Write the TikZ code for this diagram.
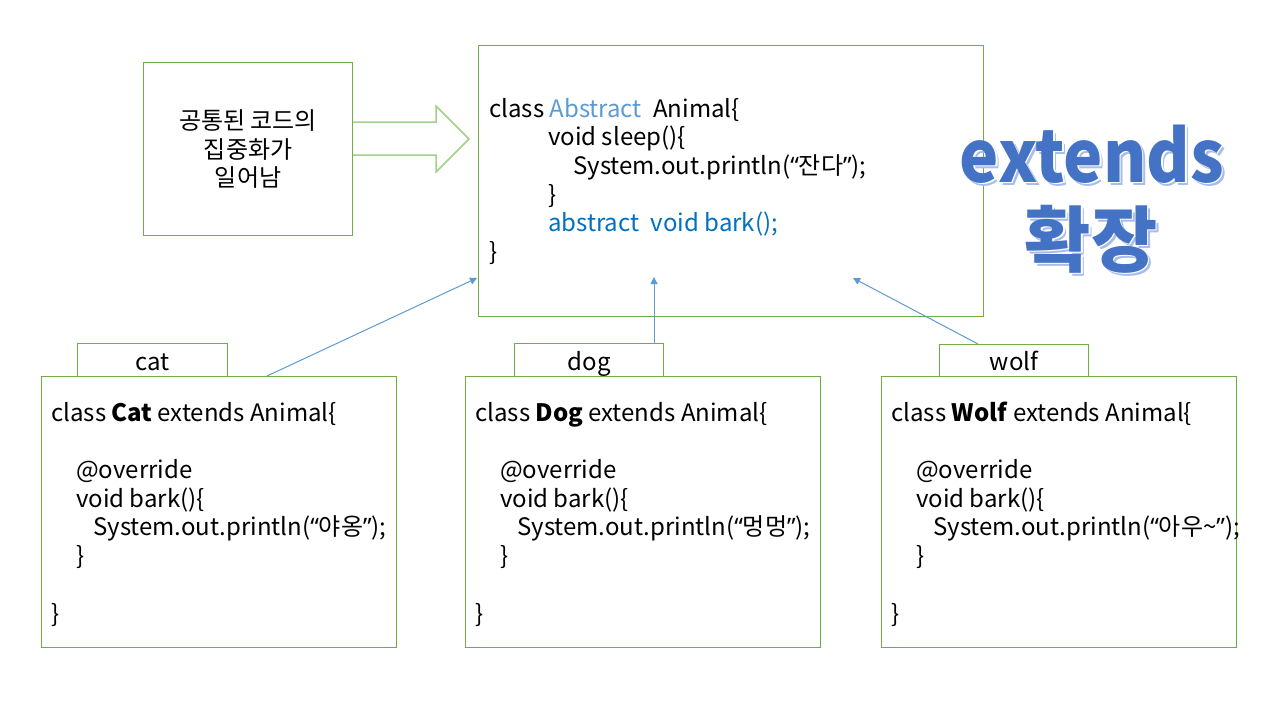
\documentclass[tikz,border=0pt]{standalone}
\usepackage{fontspec}
\setmainfont{Noto Sans CJK KR}
\newfontfamily\quotefont{Noto Sans}
\newcommand\oq{{\quotefont “}}
\newcommand\cq{{\quotefont ”}}
\usetikzlibrary{arrows.meta}
\definecolor{boxgreen}{HTML}{70AD47}
\definecolor{arrowgreen}{HTML}{A3CF87}
\definecolor{linkblue}{HTML}{5B9BD5}
\definecolor{keyblue}{HTML}{0070C0}
\definecolor{extblue}{HTML}{4472C4}
\definecolor{extshadow}{HTML}{A8BEE8}

\begin{document}
\begin{tikzpicture}[x=1pt,y=-1pt,
    box/.style={draw=boxgreen,line width=1.2pt,inner sep=0pt,anchor=north west,
      align=center,font=\fontsize{24}{28.7}\selectfont},
    tab/.style={box,text height=20pt,text depth=0pt},
    code/.style={inner sep=0pt,anchor=base west,align=left,font=\fontsize{24}{28.7}\selectfont},
    link/.style={draw=linkblue,line width=1pt,-{Triangle[length=7pt,width=7pt]}},
    big/.style={inner sep=0pt,anchor=base,font=\fontsize{72}{80}\selectfont\bfseries}]
  \useasboundingbox (0,0) rectangle (1280,720);

  \node[box,minimum width=209pt,minimum height=173pt] (note) at (143,62)
    {공통된 코드의\\집중화가\\일어남};
  \draw[arrowgreen,line width=1.5pt,line join=miter]
    (note.east |- 0,122) -- (436,122) -- (436,106) -- (469,139)
    -- (436,172) -- (436,155) -- (note.east |- 0,155);

  \node[box,minimum width=505pt,minimum height=271pt] (animal) at (478,45) {};
  \node[code] (animalcode) at (489,260.5)
    {class \textcolor{linkblue}{Abstract}\hspace{6pt} Animal\{\\
     \hspace*{59pt}void sleep()\{\\
     \hspace*{84pt}System.out.println(\oq 잔다\cq);\\
     \hspace*{59pt}\}\\
     \hspace*{59pt}\textcolor{keyblue}{abstract\hspace{6pt} void bark();}\\
     \}};

  \node[box,minimum width=355pt,minimum height=271pt] (cat) at (41,376) {};
  \node[box,minimum width=355pt,minimum height=271pt] (dog) at (465,376) {};
  \node[box,minimum width=355pt,minimum height=271pt] (wolf) at (881,376) {};
  \node[tab,minimum width=150pt,minimum height=33pt] (cattab) at (77,343) {cat};
  \node[tab,minimum width=149pt,minimum height=33pt] (dogtab) at (514,343) {dog};
  \node[tab,minimum width=149pt,minimum height=32pt] (wolftab) at (939,344) {wolf};

  \node[code] (catcode) at (51,622)
    {class \textbf{Cat} extends Animal\{\\ \mbox{}\\
     \hspace*{25pt}@override\\
     \hspace*{25pt}void bark()\{\\
     \hspace*{42pt}System.out.println(\oq 야옹\cq);\\
     \hspace*{25pt}\}\\ \mbox{}\\
     \}};
  \node[code] (dogcode) at (475,622)
    {class \textbf{Dog} extends Animal\{\\ \mbox{}\\
     \hspace*{25pt}@override\\
     \hspace*{25pt}void bark()\{\\
     \hspace*{42pt}System.out.println(\oq 멍멍\cq);\\
     \hspace*{25pt}\}\\ \mbox{}\\
     \}};
  \node[code] (wolfcode) at (891,622)
    {class \textbf{Wolf} extends Animal\{\\ \mbox{}\\
     \hspace*{25pt}@override\\
     \hspace*{25pt}void bark()\{\\
     \hspace*{42pt}System.out.println(\oq 아우\textasciitilde\cq);\\
     \hspace*{25pt}\}\\ \mbox{}\\
     \}};

  \coordinate (cathead) at (477,278);
  \coordinate (doghead) at (654,277);
  \coordinate (wolfhead) at (853,278);
  \draw[link] ([xshift=226pt]cat.north west) -- (cathead);
  \draw[link] ([xshift=140pt]dogtab.north west) -- (doghead);
  \draw[link] ([xshift=39pt]wolftab.north west) -- (wolfhead);

  \foreach \d/\c/\n in {3/extshadow/s,1.5/white/w,0/extblue/m}{
    \node[big,text=\c,xscale=0.92] (extends\n) at (1092+\d,182+\d) {extends};
    \node[big,text=\c] (hwakjang\n) at (1091+\d,266+\d) {확장};
  }
\end{tikzpicture}
\end{document}
